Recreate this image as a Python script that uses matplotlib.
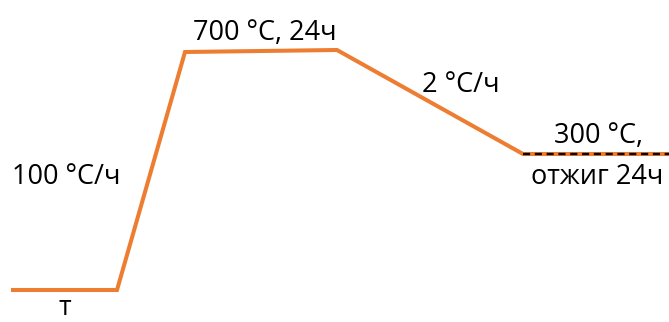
import matplotlib.pyplot as plt

# schematic heat-treatment profile (time axis and temperature level in drawing units)
t_points = [13, 117, 185, 337, 523, 669]
levels = [0, 0, 238, 240, 136, 136]
anneal_t = [523, 669]
anneal_level = [136, 136]

labels = ["700 °C, 24ч", "2 °C/ч", "300 °C,", "отжиг 24ч", "100 °C/ч", "т"]
label_t = [265, 461, 598, 597, 66, 65]
label_level = [250, 198, 147, 106, 106, -25]

plt.rcParams['font.family'] = ['Open Sans', 'DejaVu Sans']

fig = plt.figure(figsize=(6.69, 3.22), dpi=100)
ax = fig.add_axes([0, 0, 1, 1])
ax.set_xlim(0, 669)
ax.set_ylim(-32, 290)
ax.axis('off')

ax.plot(t_points, levels, color='#ED7D31', lw=2.9, solid_joinstyle='miter')
ax.plot(anneal_t, anneal_level, color='black', lw=1.7, dashes=(3.0, 2.0))

for s, x, y in zip(labels, label_t, label_level):
    ax.text(x, y, s, ha='center', va='baseline', fontsize=19.5, color='black')

fig.savefig('out.png', dpi=100)
